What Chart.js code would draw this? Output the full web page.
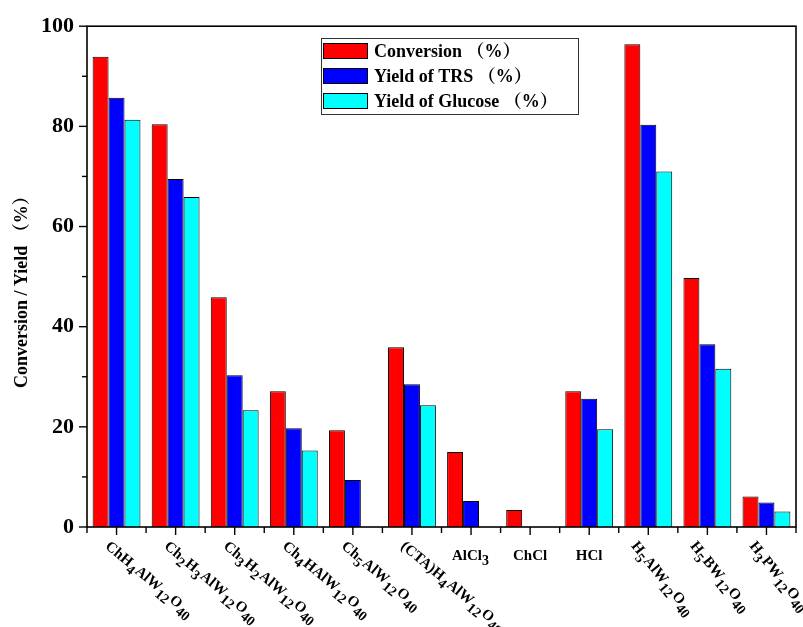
<!DOCTYPE html>
<html>
<head>
<meta charset="utf-8">
<title>Conversion and yield by catalyst</title>
<script src="https://cdn.jsdelivr.net/npm/chart.js@4.4.1/dist/chart.umd.min.js"></script>
<style>
  html, body { margin: 0; padding: 0; background: #fff; }
  canvas { display: block; }
</style>
</head>
<body>
<canvas id="c" width="803" height="627"></canvas>
<script>
// Catalysts; "_{...}" marks a subscript
const categories = [
  'ChH_{4}AlW_{12}O_{40}', 'Ch_{2}H_{3}AlW_{12}O_{40}', 'Ch_{3}H_{2}AlW_{12}O_{40}',
  'Ch_{4}HAlW_{12}O_{40}', 'Ch_{5}AlW_{12}O_{40}', '(CTA)H_{4}AlW_{12}O_{40}',
  'AlCl_{3}', 'ChCl', 'HCl',
  'H_{5}AlW_{12}O_{40}', 'H_{5}BW_{12}O_{40}', 'H_{3}PW_{12}O_{40}'
];
const conversion   = [93.9, 80.4, 45.9, 27.1, 19.3, 35.9, 15.0, 3.4, 27.1, 96.4, 49.7, 6.1];
const yieldTRS     = [85.7, 69.5, 30.3, 19.7, 9.4, 28.5, 5.2, 0, 25.6, 80.3, 36.5, 4.9];
const yieldGlucose = [81.3, 65.9, 23.3, 15.3, 0, 24.3, 0, 0, 19.5, 71.0, 31.6, 3.1];
const seriesNames  = ['Conversion （%）', 'Yield of TRS （%）', 'Yield of Glucose （%）'];
const yTicks = [0, 20, 40, 60, 80, 100];
const yTitle = 'Conversion / Yield （%）';

const SERIF = '"Liberation Serif", "Times New Roman", "Noto Serif CJK SC", "Noto Sans CJK SC", serif';

function parseRich(s) {
  const out = [];
  const re = /_\{([^}]*)\}|([^_]+)/g;
  let m;
  while ((m = re.exec(s)) !== null) {
    if (m[1] !== undefined) out.push({ t: m[1], sub: true });
    else out.push({ t: m[2], sub: false });
  }
  return out;
}
const plain = s => s.replace(/_\{([^}]*)\}/g, '$1');

// Label tilt per category (degrees, clockwise)
const labelTilt = [40, 40, 40, 40, 40, 40, 0, 0, 0, 51, 51, 51];

const framePlugin = {
  id: 'frame',
  afterDraw(chart) {
    const ctx = chart.ctx;
    const a = chart.chartArea;
    const xs = chart.scales.x, ys = chart.scales.y;
    ctx.save();
    ctx.strokeStyle = '#000';
    ctx.lineWidth = 1.6;
    ctx.strokeRect(a.left, a.top, a.right - a.left, a.bottom - a.top);

    // y ticks: major every 20, minor every 10
    ctx.lineWidth = 1.4;
    for (let v = 0; v <= 100; v += 10) {
      const y = ys.getPixelForValue(v);
      const len = v % 20 === 0 ? 8 : 5;
      ctx.beginPath();
      ctx.moveTo(a.left, y);
      ctx.lineTo(a.left - len, y);
      ctx.stroke();
    }
    // x ticks: major at category centres, minor at boundaries
    const n = categories.length;
    const step = (a.right - a.left) / n;
    for (let i = 0; i < n; i++) {
      const x = xs.getPixelForValue(i);
      ctx.beginPath();
      ctx.moveTo(x, a.bottom);
      ctx.lineTo(x, a.bottom + 8);
      ctx.stroke();
    }
    for (let i = 0; i <= n; i++) {
      const x = a.left + i * step;
      ctx.beginPath();
      ctx.moveTo(x, a.bottom);
      ctx.lineTo(x, a.bottom + 6);
      ctx.stroke();
    }

    // category labels with subscripts
    ctx.fillStyle = '#000';
    ctx.textBaseline = 'alphabetic';
    const mainFont = 'bold 15px ' + SERIF;
    const subFont = 'bold 14px ' + SERIF;
    const widthOf = segs => segs.reduce((w, s) => {
      ctx.font = s.sub ? subFont : mainFont;
      return w + ctx.measureText(s.t).width + (s.sub ? 1 : 0);
    }, 0);
    const drawSegs = (segs, x0, base) => {
      let x = x0;
      for (const s of segs) {
        ctx.font = s.sub ? subFont : mainFont;
        ctx.fillText(s.t, x, base + (s.sub ? 5 : 0));
        x += ctx.measureText(s.t).width + (s.sub ? 1 : 0);
      }
    };
    categories.forEach((c, i) => {
      const segs = parseRich(c);
      const x = xs.getPixelForValue(i);
      const tilt = labelTilt[i];
      if (tilt === 0) {
        const w = widthOf(segs);
        drawSegs(segs, x - w / 2, a.bottom + 33);
      } else {
        ctx.save();
        const dx = tilt > 45 ? -9 : -5;
        ctx.translate(x + dx, a.bottom + 12);
        ctx.rotate(tilt * Math.PI / 180);
        drawSegs(segs, 0, 11);
        ctx.restore();
      }
    });

    // y axis title
    ctx.save();
    ctx.translate(22, (a.top + a.bottom) / 2 + 11);
    ctx.rotate(-Math.PI / 2);
    ctx.font = 'bold 18px ' + SERIF;
    ctx.textAlign = 'center';
    ctx.textBaseline = 'middle';
    ctx.fillText(yTitle, 0, 0);
    ctx.restore();

    // legend box
    const lx = 321, ly = 38, lw = 257, lh = 76;
    ctx.lineWidth = 1;
    ctx.strokeStyle = '#333';
    ctx.strokeRect(lx + 0.5, ly + 0.5, lw, lh);
    ctx.font = 'bold 18px ' + SERIF;
    ctx.textAlign = 'left';
    ctx.textBaseline = 'middle';
    chart.data.datasets.forEach((ds, k) => {
      const cy = ly + 13 + k * 25;
      ctx.fillStyle = ds.backgroundColor;
      ctx.fillRect(lx + 2, cy - 8, 45, 16);
      ctx.strokeStyle = '#000';
      ctx.strokeRect(lx + 2.5, cy - 7.5, 44, 15);
      ctx.fillStyle = '#000';
      ctx.fillText(ds.label, lx + 53, cy + 1);
    });
    ctx.restore();
  }
};

new Chart(document.getElementById('c'), {
  type: 'bar',
  data: {
    labels: categories.map(plain),
    datasets: [
      { label: seriesNames[0], data: conversion,   backgroundColor: '#ff0000' },
      { label: seriesNames[1], data: yieldTRS,     backgroundColor: '#0000ff' },
      { label: seriesNames[2], data: yieldGlucose, backgroundColor: '#00ffff' }
    ].map(d => Object.assign(d, {
      borderColor: '#000', borderWidth: 1,
      barPercentage: 1.0, categoryPercentage: 0.81
    }))
  },
  options: {
    responsive: false,
    animation: false,
    devicePixelRatio: 1,
    layout: { padding: { top: 22, right: 7, left: 0, bottom: 0 } },
    plugins: { legend: { display: false }, tooltip: { enabled: false } },
    scales: {
      x: {
        grid: { display: false, drawTicks: false },
        border: { display: false },
        ticks: { display: false },
        afterFit(s) { s.height = 100; }
      },
      y: {
        min: 0, max: 100,
        afterBuildTicks(s) { s.ticks = yTicks.map(v => ({ value: v })); },
        grid: { display: false, drawTicks: false },
        border: { display: false },
        ticks: { color: '#000', padding: 13, font: { family: SERIF, size: 22, weight: 'bold' } },
        afterFit(s) { s.width = 87; }
      }
    }
  },
  plugins: [framePlugin]
});
</script>
</body>
</html>
